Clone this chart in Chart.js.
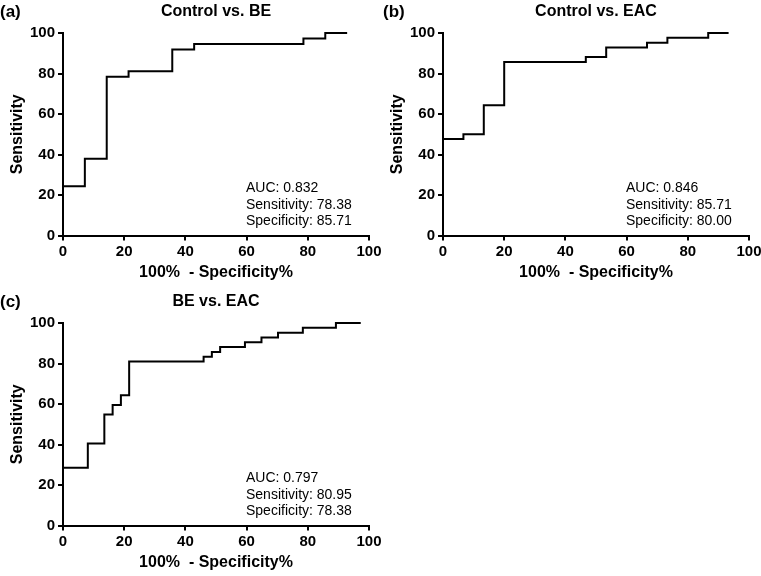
<!DOCTYPE html>
<html>
<head>
<meta charset="utf-8">
<script src="https://cdn.jsdelivr.net/npm/chart.js"></script>
<style>
  html, body { margin: 0; padding: 0; background: #fff; overflow: hidden; }
  .panel { position: absolute; }
</style>
</head>
<body>
<div class="panel" style="left:0;top:0"><canvas id="chartA" width="381" height="290"></canvas></div>
<div class="panel" style="left:380px;top:0"><canvas id="chartB" width="381" height="290"></canvas></div>
<div class="panel" style="left:0;top:290px"><canvas id="chartC" width="381" height="290"></canvas></div>
<script>
// ROC points: x = 100% - Specificity%, y = Sensitivity
const ctrlBeX = [0, 7.14, 14.29, 21.43, 35.71, 42.86, 78.57, 85.71, 92.86];
const ctrlBeY = [24.32, 37.84, 78.38, 81.08, 91.89, 94.59, 97.30, 100, 100];

const ctrlEacX = [0, 6.67, 13.33, 20.00, 46.67, 53.33, 66.67, 73.33, 86.67, 93.33];
const ctrlEacY = [47.62, 50.00, 64.29, 85.71, 88.10, 92.86, 95.24, 97.62, 100, 100];

const beEacX = [0, 8.11, 13.51, 16.22, 18.92, 21.62, 45.95, 48.65, 51.35, 59.46, 64.86, 70.27, 78.38, 89.19, 97.30];
const beEacY = [28.57, 40.48, 54.76, 59.52, 64.29, 80.95, 83.33, 85.71, 88.10, 90.48, 92.86, 95.24, 97.62, 100, 100];

const axisTicks = [0, 20, 40, 60, 80, 100];

const panelLabels = ['(a)', '(b)', '(c)'];
const panelTitles = ['Control vs. BE', 'Control vs. EAC', 'BE vs. EAC'];
const aucValues = ['0.832', '0.846', '0.797'];
const sensValues = ['78.38', '85.71', '80.95'];
const specValues = ['85.71', '80.00', '78.38'];

const FONT = "'Liberation Sans', Arial, sans-serif";

// plot area inside each canvas
const PLOT_LEFT = 63;
const PLOT_RIGHT = 369;
const PLOT_BOTTOM = 235.5;

// draws the panel letter and the AUC box
const panelText = {
  id: 'panelText',
  afterDraw(chart, args, opts) {
    const ctx = chart.ctx;
    const area = chart.chartArea;
    ctx.save();
    ctx.fillStyle = '#000';
    ctx.textBaseline = 'middle';
    ctx.textAlign = 'left';
    ctx.font = 'bold 17px ' + FONT;
    ctx.fillText(opts.label, opts.labelX, 12);

    ctx.font = '14px ' + FONT;
    const x = area.left + 183;
    ctx.fillText('AUC: ' + opts.auc, x, area.bottom - 47);
    ctx.fillText('Sensitivity: ' + opts.sens, x, area.bottom - 30.5);
    ctx.fillText('Specificity: ' + opts.spec, x, area.bottom - 14);
    ctx.restore();
  }
};

function makePanel(id, idx, xs, ys, labelX) {
  const canvas = document.getElementById(id);
  const W = canvas.width, H = canvas.height;
  const points = xs.map((x, i) => ({ x: x, y: ys[i] }));

  const gridOpts = {
    display: true,
    drawOnChartArea: false,
    drawTicks: true,
    tickLength: 5,
    color: '#000',
    lineWidth: 2
  };

  return new Chart(canvas, {
    type: 'line',
    data: {
      datasets: [{
        data: points,
        borderColor: '#000',
        borderWidth: 2,
        pointRadius: 0,
        fill: false,
        clip: false,
        stepped: 'before' // horizontal run, then the vertical jump
      }]
    },
    options: {
      responsive: false,
      animation: false,
      layout: { padding: { left: 0, top: 0, right: W - PLOT_RIGHT, bottom: 0 } },
      plugins: {
        legend: { display: false },
        tooltip: { enabled: false },
        title: {
          display: true,
          text: panelTitles[idx],
          fullSize: false,
          color: '#000',
          font: { family: FONT, size: 16, weight: 'bold' },
          padding: { top: 2.4, bottom: 11.4 }
        },
        panelText: {
          label: panelLabels[idx],
          labelX: labelX,
          auc: aucValues[idx],
          sens: sensValues[idx],
          spec: specValues[idx]
        }
      },
      scales: {
        x: {
          type: 'linear',
          min: 0,
          max: 100,
          afterBuildTicks: s => { s.ticks = axisTicks.map(v => ({ value: v })); },
          ticks: {
            color: '#000',
            padding: 2,
            maxRotation: 0,
            font: { family: FONT, size: 15, weight: 'bold' }
          },
          grid: gridOpts,
          border: { display: true, color: '#000', width: 2 },
          title: {
            display: true,
            text: '100%  - Specificity%',
            color: '#000',
            font: { family: FONT, size: 16, weight: 'bold' },
            padding: { top: 0, bottom: 8 }
          },
          afterFit: s => {
            s.height = H - PLOT_BOTTOM;
            s.paddingLeft = 0;
            s.paddingRight = 0;
          }
        },
        y: {
          type: 'linear',
          min: 0,
          max: 100,
          afterBuildTicks: s => { s.ticks = axisTicks.map(v => ({ value: v })); },
          ticks: {
            color: '#000',
            padding: 3,
            font: { family: FONT, size: 15, weight: 'bold' }
          },
          grid: gridOpts,
          border: { display: true, color: '#000', width: 2 },
          title: {
            display: true,
            text: 'Sensitivity',
            color: '#000',
            font: { family: FONT, size: 16, weight: 'bold' },
            padding: { top: 8, bottom: 0 }
          },
          afterFit: s => {
            s.width = PLOT_LEFT;
            s.paddingTop = 0;
            s.paddingBottom = 0;
          }
        }
      }
    },
    plugins: [panelText]
  });
}

makePanel('chartA', 0, ctrlBeX, ctrlBeY, 0);
makePanel('chartB', 1, ctrlEacX, ctrlEacY, 3);
makePanel('chartC', 2, beEacX, beEacY, 0);
</script>
</body>
</html>
